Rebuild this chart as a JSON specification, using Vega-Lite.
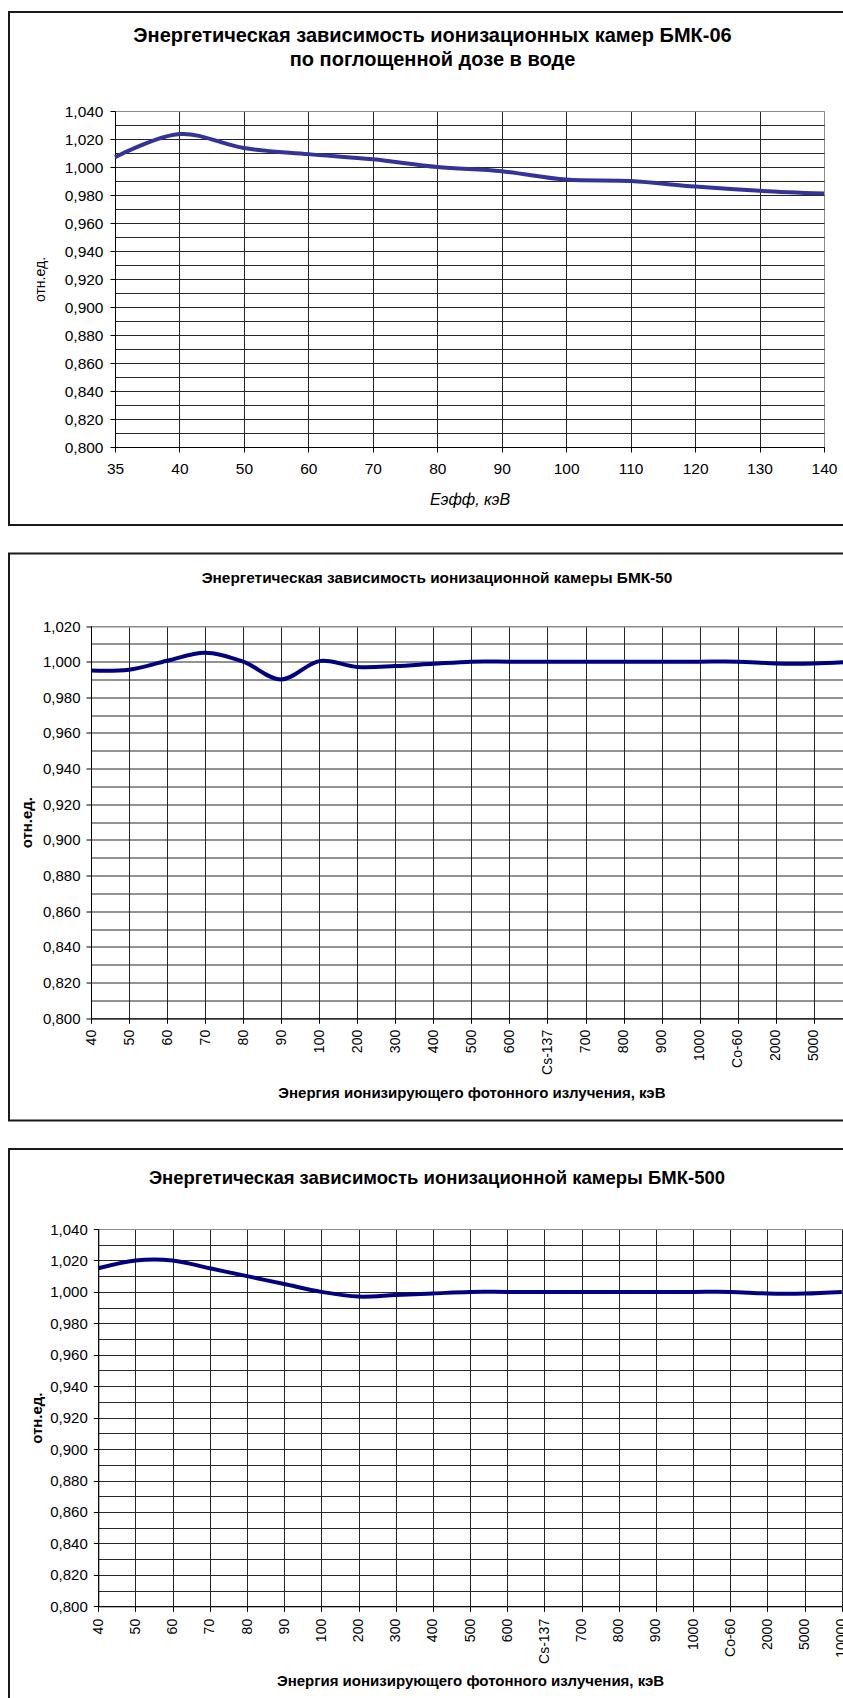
{
  "$schema": "https://vega.github.io/schema/vega-lite/v6.json",
  "padding": {"left": 8, "top": 11, "right": 0, "bottom": 0},
  "background": "white",
  "config": {
    "font": "Liberation Sans",
    "axis": {
      "labelFont": "Liberation Sans",
      "titleFont": "Liberation Sans",
      "labelColor": "#000000",
      "titleColor": "#000000",
      "domainColor": "#000000",
      "tickColor": "#000000",
      "gridColor": "#262626",
      "gridOpacity": 1,
      "gridWidth": 1,
      "tickSize": 5,
      "tickWidth": 1,
      "domainWidth": 1,
      "labelOverlap": false
    },
    "title": {"font": "Liberation Sans", "color": "#000000"}
  },
  "datasets": {
    "bmk06": [
      {"e": "35", "v": 1.007},
      {"e": "40", "v": 1.0235},
      {"e": "50", "v": 1.0135},
      {"e": "60", "v": 1.0092},
      {"e": "70", "v": 1.0055},
      {"e": "80", "v": 1.0},
      {"e": "90", "v": 0.997},
      {"e": "100", "v": 0.991},
      {"e": "110", "v": 0.99},
      {"e": "120", "v": 0.986},
      {"e": "130", "v": 0.983},
      {"e": "140", "v": 0.981}
    ],
    "bmk50": [
      {"e": "40", "v": 0.995},
      {"e": "50", "v": 0.9955},
      {"e": "60", "v": 1.0005},
      {"e": "70", "v": 1.005},
      {"e": "80", "v": 1.0},
      {"e": "90", "v": 0.99},
      {"e": "100", "v": 1.0003},
      {"e": "200", "v": 0.997},
      {"e": "300", "v": 0.9975},
      {"e": "400", "v": 0.9988},
      {"e": "500", "v": 1.0},
      {"e": "600", "v": 1.0},
      {"e": "Cs-137", "v": 1.0},
      {"e": "700", "v": 1.0},
      {"e": "800", "v": 1.0},
      {"e": "900", "v": 1.0},
      {"e": "1000", "v": 1.0},
      {"e": "Co-60", "v": 1.0},
      {"e": "2000", "v": 0.999},
      {"e": "5000", "v": 0.999},
      {"e": "10000", "v": 1.0}
    ],
    "bmk500": [
      {"e": "40", "v": 1.015},
      {"e": "50", "v": 1.02},
      {"e": "60", "v": 1.02},
      {"e": "70", "v": 1.015},
      {"e": "80", "v": 1.01},
      {"e": "90", "v": 1.005},
      {"e": "100", "v": 1.0},
      {"e": "200", "v": 0.997},
      {"e": "300", "v": 0.998},
      {"e": "400", "v": 0.999},
      {"e": "500", "v": 1.0},
      {"e": "600", "v": 1.0},
      {"e": "Cs-137", "v": 1.0},
      {"e": "700", "v": 1.0},
      {"e": "800", "v": 1.0},
      {"e": "900", "v": 1.0},
      {"e": "1000", "v": 1.0},
      {"e": "Co-60", "v": 1.0},
      {"e": "2000", "v": 0.999},
      {"e": "5000", "v": 0.999},
      {"e": "10000", "v": 1.0}
    ]
  },
  "spacing": 28.5,
  "bounds": "flush",
  "vconcat": [
    {
      "width": 847,
      "height": 513,
      "view": {"stroke": "#1a1a1a", "strokeWidth": 2},
      "title": {
        "text": ["Энергетическая зависимость ионизационных камер БМК-06", "по поглощенной дозе в воде"],
        "fontSize": 20,
        "fontWeight": "bold",
        "anchor": "middle",
        "frame": "group",
        "baseline": "middle",
        "lineHeight": 24,
        "offset": -68
      },
      "data": {"name": "bmk06"},
      "encoding": {
        "y": {
          "field": "v",
          "type": "quantitative",
          "scale": {"domain": [0.8, 1.04], "range": [435, 99], "zero": false, "nice": false},
          "axis": {
            "values": [0.8, 0.81, 0.82, 0.83, 0.84, 0.85, 0.86, 0.87, 0.88, 0.89, 0.9, 0.91, 0.92, 0.93, 0.94, 0.95, 0.96, 0.97, 0.98, 0.99, 1, 1.01, 1.02, 1.03, 1.04],
            "labelExpr": "round(datum.value*100) % 2 == 0 ? replace(format(datum.value, '.3f'), '.', ',') : ''",
            "labelFontSize": 15.5,
            "labelPadding": 7,
            "offset": -106,
            "tickOpacity": {"condition": {"test": "round(datum.value*100) % 2 == 0", "value": 1}, "value": 0},
            "gridColor": {"condition": {"test": "datum.value > 1.035", "value": "#8c8c8c"}, "value": "#262626"},
            "title": "отн.ед.",
            "titleFontSize": 14,
            "titleFontWeight": "normal",
            "titleX": -75,
            "titleBaseline": "middle"
          }
        }
      },
      "layer": [
        {
          "mark": {"type": "point", "opacity": 0},
          "encoding": {
            "x": {
              "field": "e",
              "type": "ordinal",
              "scale": {"domain": ["35", "40", "50", "60", "70", "80", "90", "100", "110", "120", "130", "140"], "range": [106, 815], "padding": 0},
              "axis": {
                "orient": "top",
                "offset": -99,
                "grid": true,
                "gridColor": {"condition": {"test": "datum.value == '140'", "value": "#8c8c8c"}, "value": "#262626"},
                "labels": false,
                "ticks": false,
                "domain": true,
                "domainColor": "#8c8c8c",
                "title": null
              }
            }
          }
        },
        {
          "mark": {"type": "line", "interpolate": "cardinal", "color": "#333399", "strokeWidth": 4},
          "encoding": {
            "x": {
              "field": "e",
              "type": "ordinal",
              "scale": {"domain": ["35", "40", "50", "60", "70", "80", "90", "100", "110", "120", "130", "140"], "range": [106, 815], "padding": 0},
              "axis": {
                "orient": "bottom",
                "offset": -78,
                "grid": false,
                "labelAngle": 0,
                "labelFontSize": 15.5,
                "labelPadding": 9,
                "title": "Еэфф, кэВ",
                "titleFontStyle": "italic",
                "titleFontWeight": "normal",
                "titleFontSize": 16,
                "titleY": 52,
                "titleBaseline": "middle"
              }
            }
          }
        }
      ],
      "resolve": {"axis": {"x": "independent"}}
    },
    {
      "width": 856,
      "height": 567,
      "view": {"stroke": "#1a1a1a", "strokeWidth": 2},
      "title": {
        "text": "Энергетическая зависимость ионизационной камеры БМК-50",
        "fontSize": 15.4,
        "fontWeight": "bold",
        "anchor": "middle",
        "frame": "group",
        "baseline": "middle",
        "offset": -39.6
      },
      "data": {"name": "bmk50"},
      "encoding": {
        "y": {
          "field": "v",
          "type": "quantitative",
          "scale": {"domain": [0.8, 1.02], "range": [464.8, 72.5], "zero": false, "nice": false},
          "axis": {
            "values": [0.8, 0.81, 0.82, 0.83, 0.84, 0.85, 0.86, 0.87, 0.88, 0.89, 0.9, 0.91, 0.92, 0.93, 0.94, 0.95, 0.96, 0.97, 0.98, 0.99, 1, 1.01, 1.02],
            "labelExpr": "round(datum.value*100) % 2 == 0 ? replace(format(datum.value, '.3f'), '.', ',') : ''",
            "labelFontSize": 15,
            "labelPadding": 6,
            "offset": -82,
            "tickOpacity": {"condition": {"test": "round(datum.value*100) % 2 == 0", "value": 1}, "value": 0},
            "gridColor": {"condition": {"test": "datum.value > 1.015", "value": "#8c8c8c"}, "value": "#262626"},
            "title": "отн.ед.",
            "titleFontSize": 15,
            "titleFontWeight": "bold",
            "titleX": -65,
            "titleBaseline": "middle"
          }
        }
      },
      "layer": [
        {
          "mark": {"type": "point", "opacity": 0},
          "encoding": {
            "x": {
              "field": "e",
              "type": "ordinal",
              "scale": {"domain": ["40", "50", "60", "70", "80", "90", "100", "200", "300", "400", "500", "600", "Cs-137", "700", "800", "900", "1000", "Co-60", "2000", "5000", "10000"], "range": [82, 842.8], "padding": 0},
              "axis": {
                "orient": "top",
                "offset": -72.5,
                "grid": true,
                "labels": false,
                "ticks": false,
                "domain": true,
                "domainColor": "#8c8c8c",
                "title": null
              }
            }
          }
        },
        {
          "mark": {"type": "line", "interpolate": "cardinal", "color": "#000080", "strokeWidth": 4},
          "encoding": {
            "x": {
              "field": "e",
              "type": "ordinal",
              "scale": {"domain": ["40", "50", "60", "70", "80", "90", "100", "200", "300", "400", "500", "600", "Cs-137", "700", "800", "900", "1000", "Co-60", "2000", "5000", "10000"], "range": [82, 842.8], "padding": 0},
              "axis": {
                "orient": "bottom",
                "offset": -102.2,
                "grid": false,
                "labelAngle": 270,
                "labelFontSize": 14,
                "labelPadding": 6,
                "labelExpr": "datum.label == '10000' ? '' : datum.label",
                "title": "Энергия ионизирующего фотонного излучения, кэВ",
                "titleFontWeight": "bold",
                "titleFontSize": 15,
                "titleY": 74,
                "titleBaseline": "middle"
              }
            }
          }
        }
      ],
      "resolve": {"axis": {"x": "independent"}}
    },
    {
      "width": 856,
      "height": 560,
      "view": {"stroke": "#1a1a1a", "strokeWidth": 2},
      "title": {
        "text": "Энергетическая зависимость ионизационной камеры БМК-500",
        "fontSize": 18.5,
        "fontWeight": "bold",
        "anchor": "middle",
        "frame": "group",
        "baseline": "middle",
        "offset": -47.5
      },
      "data": {"name": "bmk500"},
      "encoding": {
        "y": {
          "field": "v",
          "type": "quantitative",
          "scale": {"domain": [0.8, 1.04], "range": [457.3, 80], "zero": false, "nice": false},
          "axis": {
            "values": [0.8, 0.81, 0.82, 0.83, 0.84, 0.85, 0.86, 0.87, 0.88, 0.89, 0.9, 0.91, 0.92, 0.93, 0.94, 0.95, 0.96, 0.97, 0.98, 0.99, 1, 1.01, 1.02, 1.03, 1.04],
            "labelExpr": "round(datum.value*100) % 2 == 0 ? replace(format(datum.value, '.3f'), '.', ',') : ''",
            "labelFontSize": 15,
            "labelPadding": 6,
            "offset": -89.3,
            "tickOpacity": {"condition": {"test": "round(datum.value*100) % 2 == 0", "value": 1}, "value": 0},
            "gridColor": {"condition": {"test": "datum.value > 1.035", "value": "#8c8c8c"}, "value": "#262626"},
            "title": "отн.ед.",
            "titleFontSize": 15,
            "titleFontWeight": "bold",
            "titleX": -62.3,
            "titleBaseline": "middle"
          }
        }
      },
      "layer": [
        {
          "mark": {"type": "point", "opacity": 0},
          "encoding": {
            "x": {
              "field": "e",
              "type": "ordinal",
              "scale": {"domain": ["40", "50", "60", "70", "80", "90", "100", "200", "300", "400", "500", "600", "Cs-137", "700", "800", "900", "1000", "Co-60", "2000", "5000", "10000"], "range": [89.3, 832.8], "padding": 0},
              "axis": {
                "orient": "top",
                "offset": -80,
                "grid": true,
                "labels": false,
                "ticks": false,
                "domain": true,
                "domainColor": "#8c8c8c",
                "title": null
              }
            }
          }
        },
        {
          "mark": {"type": "line", "interpolate": "cardinal", "color": "#000080", "strokeWidth": 4},
          "encoding": {
            "x": {
              "field": "e",
              "type": "ordinal",
              "scale": {"domain": ["40", "50", "60", "70", "80", "90", "100", "200", "300", "400", "500", "600", "Cs-137", "700", "800", "900", "1000", "Co-60", "2000", "5000", "10000"], "range": [89.3, 832.8], "padding": 0},
              "axis": {
                "orient": "bottom",
                "offset": -102.7,
                "grid": false,
                "labelAngle": 270,
                "labelFontSize": 14,
                "labelPadding": 7,
                "title": "Энергия ионизирующего фотонного излучения, кэВ",
                "titleFontWeight": "bold",
                "titleFontSize": 15,
                "titleY": 73.7,
                "titleBaseline": "middle"
              }
            }
          }
        }
      ],
      "resolve": {"axis": {"x": "independent"}}
    }
  ]
}
